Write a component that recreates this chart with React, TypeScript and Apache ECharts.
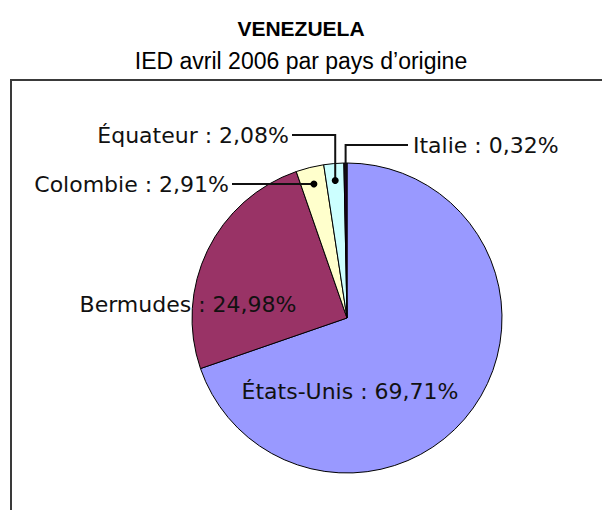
import React, { useEffect, useRef } from "react";
import * as echarts from "echarts";

const countries = ["États-Unis", "Bermudes", "Colombie", "Équateur", "Italie"];
const shares = [69.71, 24.98, 2.91, 2.08, 0.32];
const sliceColors = ["#9999FF", "#993366", "#FFFFCC", "#CCFFFF", "#220022"];
const titleText = "VENEZUELA";
const subtitleText = "IED avril 2006 par pays d’origine";

const W = 602;
const H = 510;
const CX = 347;
const CY = 318;
const R = 155;
const DOT_R = 138;

type Place = { x: number; y: number; align: "left" | "right" | "center"; leader: boolean; dot: boolean };
const places: Place[] = [
  { x: 350, y: 391, align: "center", leader: false, dot: false },
  { x: 188, y: 304, align: "center", leader: false, dot: false },
  { x: 229, y: 184, align: "right", leader: true, dot: true },
  { x: 289, y: 135, align: "right", leader: true, dot: true },
  { x: 413, y: 145, align: "left", leader: true, dot: false },
];

function fmt(v: number) {
  return v.toFixed(2).replace(".", ",");
}

function midAngle(i: number) {
  const total = shares.reduce((a, b) => a + b, 0);
  let before = 0;
  for (let k = 0; k < i; k++) before += shares[k];
  return ((before + shares[i] / 2) / total) * 2 * Math.PI;
}

function anchor(i: number, r: number): [number, number] {
  const a = midAngle(i);
  return [CX + r * Math.sin(a), CY - r * Math.cos(a)];
}

export default function App() {
  const ref = useRef<HTMLDivElement>(null);
  useEffect(() => {
    if (!ref.current) return;
    const chart = echarts.init(ref.current, undefined, { renderer: "svg" });
    const data = countries.map((name, i) => ({
      name,
      value: shares[i],
      itemStyle: { color: sliceColors[i] },
    }));
    const extras: any[] = [];
    places.forEach((pl, i) => {
      if (!pl.leader) return;
      const a = anchor(i, DOT_R);
      const endX = pl.align === "right" ? pl.x + 3 : pl.x - 5;
      extras.push({
        type: "polyline",
        shape: { points: [a, [a[0], pl.y], [endX, pl.y]] },
        style: { stroke: "#111", lineWidth: 2, fill: "none" },
        z: 100,
      });
      if (pl.dot) {
        extras.push({
          type: "circle",
          shape: { cx: a[0], cy: a[1], r: 3.5 },
          style: { fill: "#000" },
          z: 101,
        });
      }
    });
    chart.setOption({
      animation: false,
      backgroundColor: "#fff",
      title: {
        text: titleText,
        subtext: subtitleText,
        left: "center",
        top: 13,
        itemGap: 10,
        textStyle: { fontFamily: "Liberation Sans", fontWeight: "bold", fontSize: 21, color: "#000" },
        subtextStyle: { fontFamily: "Liberation Sans", fontSize: 23, color: "#000" },
      },
      graphic: [
        {
          type: "rect",
          shape: { x: 11, y: 80, width: 640, height: 480 },
          style: { fill: "none", stroke: "#3a3a3a", lineWidth: 2 },
          z: 0,
        },
        ...extras,
      ],
      series: [
        {
          type: "pie",
          center: [CX, CY],
          radius: R,
          startAngle: 90,
          clockwise: true,
          avoidLabelOverlap: false,
          itemStyle: { borderColor: "#000", borderWidth: 1 },
          label: {
            show: true,
            position: "outside",
            fontFamily: "DejaVu Sans",
            fontSize: 22,
            color: "#111",
            formatter: (p: any) => `${p.name} : ${fmt(p.value)}%`,
          },
          labelLine: { show: false },
          labelLayout: (params: any) => {
            const pl = places[params.dataIndex];
            return { x: pl.x, y: pl.y, align: pl.align, verticalAlign: "middle" };
          },
          emphasis: { disabled: true },
          data,
        },
      ],
    });
    return () => chart.dispose();
  }, []);
  return <div ref={ref} style={{ position: "fixed", left: 0, top: 0, width: W, height: H }} />;
}
